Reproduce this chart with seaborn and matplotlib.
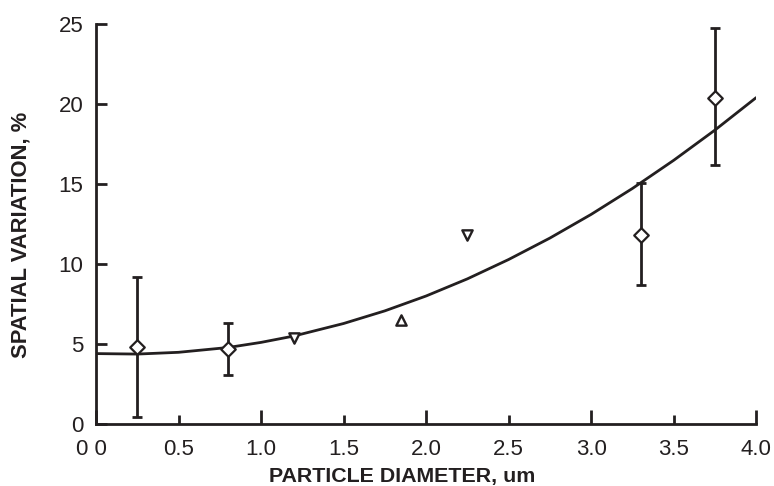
import matplotlib
matplotlib.use("Agg")
import matplotlib.pyplot as plt
import matplotlib.transforms as mtransforms
import seaborn as sns
import pandas as pd
from matplotlib.ticker import FixedLocator, FixedFormatter

# ---- data ----
diamond_x = [0.25, 0.8, 3.3, 3.75]
diamond_y = [4.8, 4.7, 11.8, 20.4]
diamond_lo = [0.45, 3.05, 8.7, 16.2]
diamond_hi = [9.2, 6.3, 15.05, 24.75]

down_x = [1.2, 2.25]
down_y = [5.4, 11.8]

up_x = [1.85]
up_y = [6.5]

curve_x = [0.0, 0.25, 0.5, 0.8, 1.0, 1.2, 1.5, 1.75, 2.0, 2.25, 2.5, 2.75,
           3.0, 3.25, 3.5, 3.75, 4.0]
curve_y = [4.40, 4.37, 4.48, 4.78, 5.10, 5.50, 6.28, 7.07, 8.00, 9.07, 10.28,
           11.62, 13.10, 14.72, 16.48, 18.37, 20.40]

x_major = [0, 1, 2, 3, 4]
x_major_labels = ["0 0", "1.0", "2.0", "3.0", "4.0"]
x_minor = [0.5, 1.5, 2.5, 3.5]
x_minor_labels = ["0.5", "1.5", "2.5", "3.5"]
y_ticks = [0, 5, 10, 15, 20, 25]

sns.set_style("ticks")
plt.rcParams["font.family"] = ["Liberation Sans", "DejaVu Sans"]

ink = "#231f20"
fig = plt.figure(figsize=(7.74, 4.86), dpi=100)
ax = fig.add_axes([0.124, 0.1276, 0.853, 0.823])

lw = 2.0
curve_df = pd.DataFrame({"x": curve_x, "y": curve_y})
sns.lineplot(data=curve_df, x="x", y="y", ax=ax, color=ink, lw=lw,
             sort=True, estimator=None, zorder=2)

err_lo = [y - lo for y, lo in zip(diamond_y, diamond_lo)]
err_hi = [hi - y for y, hi in zip(diamond_y, diamond_hi)]
ax.errorbar(diamond_x, diamond_y, yerr=[err_lo, err_hi], fmt="none",
            ecolor=ink, elinewidth=lw, capsize=3.7, capthick=lw, zorder=3)

sns.scatterplot(x=diamond_x, y=diamond_y, ax=ax, marker="D", s=55,
                facecolor="white", edgecolor=ink, linewidth=1.6, zorder=4)
sns.scatterplot(x=down_x, y=down_y, ax=ax, marker="v", s=55,
                facecolor="white", edgecolor=ink, linewidth=1.7, zorder=4)
sns.scatterplot(x=up_x, y=up_y, ax=ax, marker="^", s=55,
                facecolor="white", edgecolor=ink, linewidth=1.7, zorder=4)

ax.set_xlim(0, 4)
ax.set_ylim(0, 25)
ax.xaxis.set_major_locator(FixedLocator(x_major))
ax.xaxis.set_major_formatter(FixedFormatter(x_major_labels))
ax.xaxis.set_minor_locator(FixedLocator(x_minor))
ax.xaxis.set_minor_formatter(FixedFormatter(x_minor_labels))
ax.set_yticks(y_ticks)

for s in ["top", "right"]:
    ax.spines[s].set_visible(False)
for s in ["left", "bottom"]:
    ax.spines[s].set_linewidth(lw)
    ax.spines[s].set_color(ink)

ax.tick_params(axis="x", which="major", direction="in", length=10, width=lw,
               labelsize=16, pad=10.5, colors=ink)
ax.tick_params(axis="x", which="minor", direction="in", length=6.5, width=lw,
               labelsize=16, pad=10.5, colors=ink)
ax.tick_params(axis="y", direction="in", length=8, width=lw, labelsize=16,
               pad=9, colors=ink)

# the "0 0" label sits slightly left of its tick in the reference
lab0 = ax.xaxis.get_major_ticks()[0].label1
lab0.set_transform(lab0.get_transform() +
                   mtransforms.ScaledTranslation(-4.5 / 100, 0, fig.dpi_scale_trans))

ax.set_xlabel("PARTICLE DIAMETER, um", fontsize=15.4, fontweight="bold",
              color=ink)
ax.set_ylabel("SPATIAL VARIATION, %", fontsize=15.8, fontweight="bold",
              color=ink)
ax.xaxis.set_label_coords(0.464, -0.108)
ax.yaxis.set_label_coords(-0.097, 0.474)

fig.savefig("out.png", dpi=100)
